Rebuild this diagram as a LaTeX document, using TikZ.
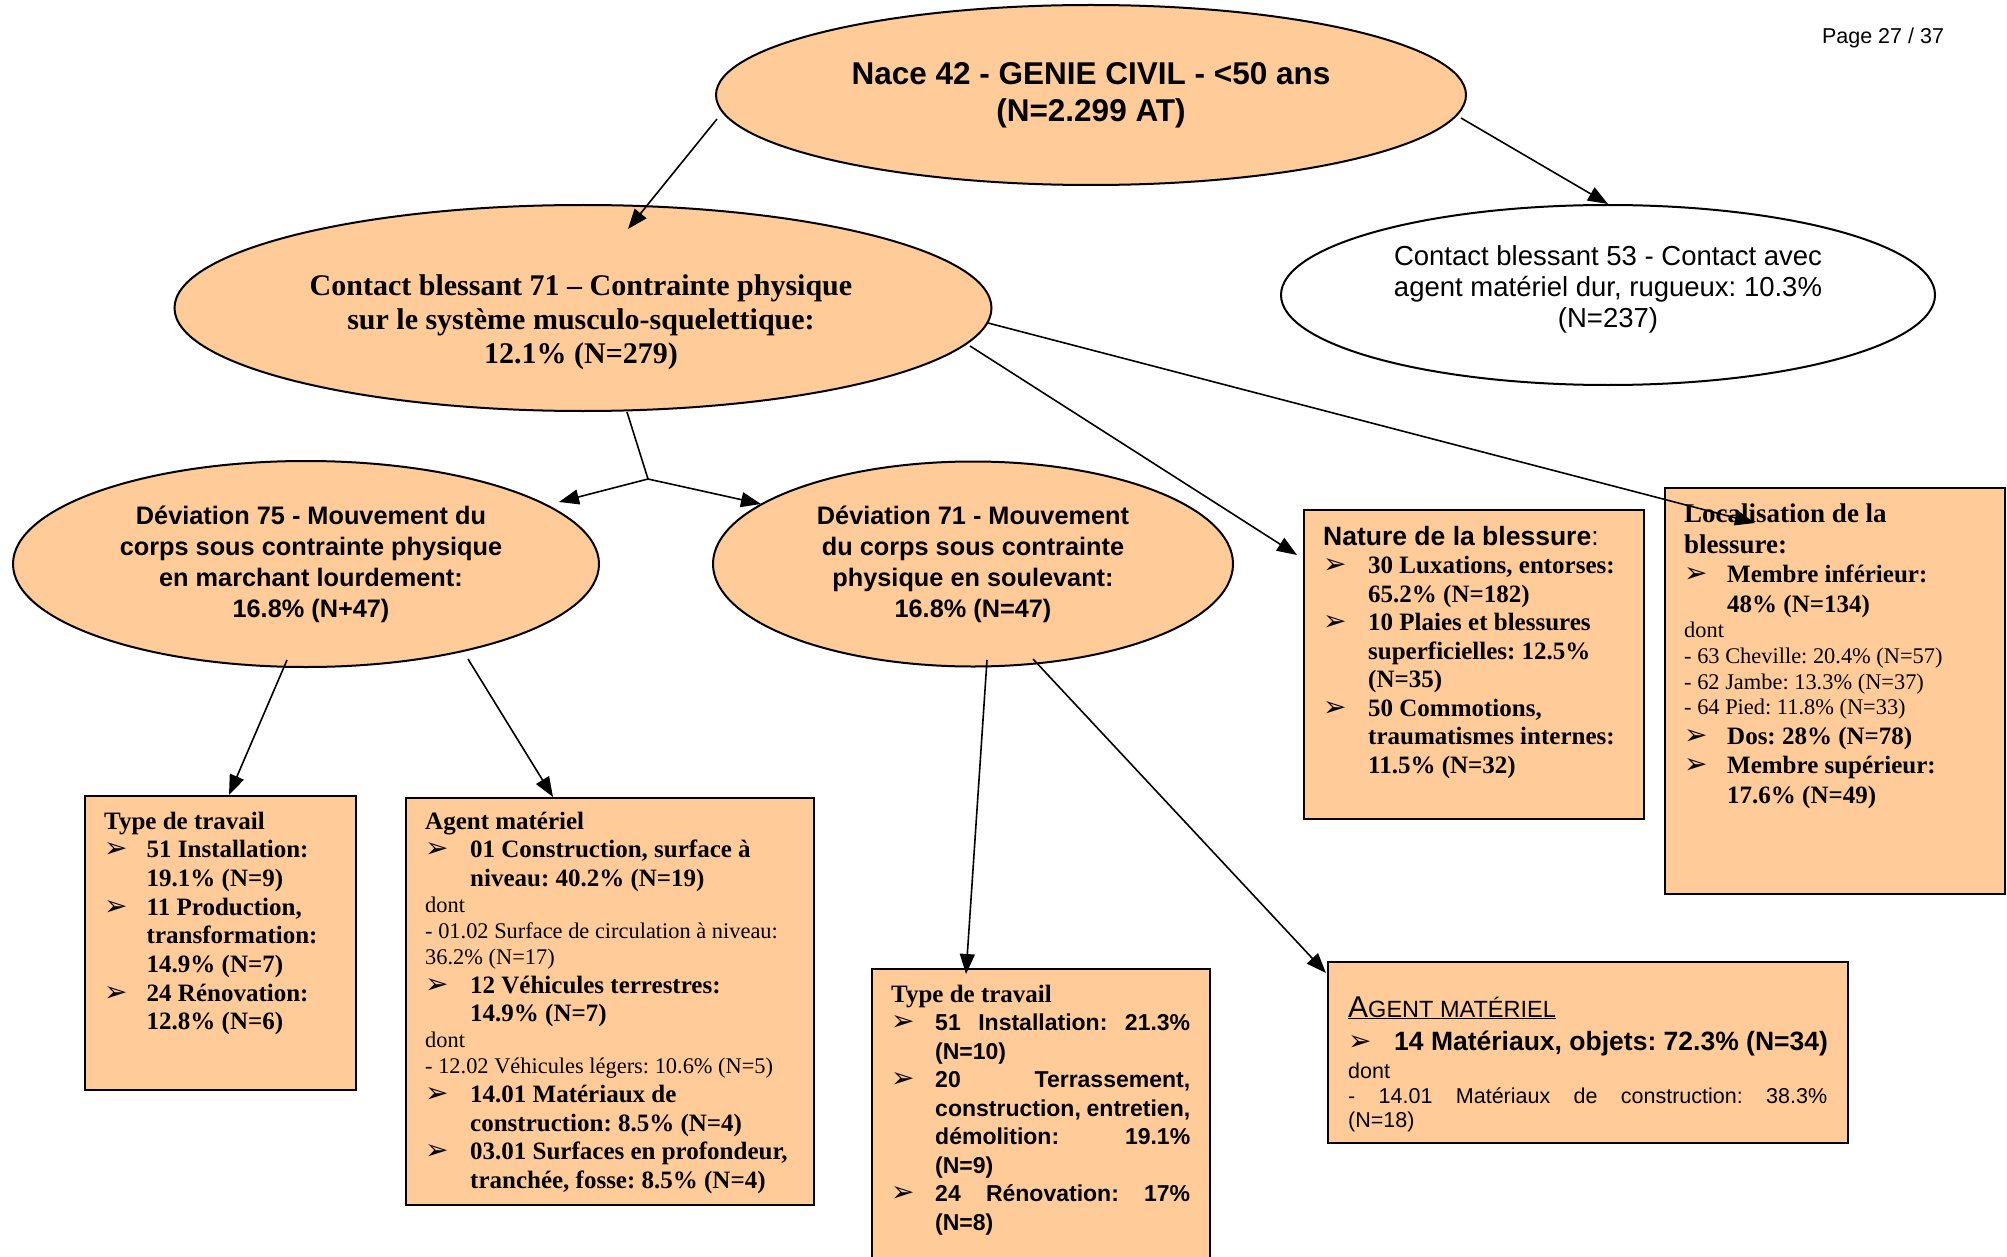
\documentclass[tikz,border=0pt]{standalone}
\usepackage{fontspec}
\setmainfont{Liberation Serif}
\newfontfamily\arialf{Liberation Sans}
\newfontfamily\dingf{DejaVu Sans}
\usetikzlibrary{shapes.geometric,arrows.meta}
\definecolor{peach}{RGB}{255,204,153}
\frenchspacing

% font size shortcut; word spaces follow the current font
\newcommand\fs[2]{\fontsize{#1}{#2}\selectfont\spaceskip=0pt\xspaceskip=0pt\relax}
% arrow-head bullet
\newcommand\arrowbul{{\dingf\mdseries\fs{28}{28}➢}}
% bulleted paragraph with hanging indent (#1 = indent in pt)
\newcommand\bitem[2]{\par\hangindent=#1pt\hangafter=1\noindent\makebox[#1pt][l]{\arrowbul}#2\par}
% plain unindented paragraph
\newcommand\plainline[1]{\par\noindent #1\par}
% first paragraph of a box
\newcommand\firstline[1]{\noindent #1\par}

\begin{document}
\begin{tikzpicture}[x=1pt,y=-1pt,
  oval/.style={ellipse, draw, line width=2pt, fill=peach, inner sep=0pt},
  panel/.style={rectangle, draw, line width=2pt, fill=peach, inner sep=0pt, anchor=north west},
  txtbox/.style={anchor=base west, inner sep=0pt, align=left, text width=#1},
  link/.style={line width=1.6pt},
  linkarrow/.style={link, -{Triangle[length=20pt,width=15pt]}}]

\useasboundingbox (0,0) rectangle (2007,1257);
\clip (0,0) rectangle (2007,1257);

% ---------- ellipses ----------
\node[oval, minimum width=750pt, minimum height=180pt] (T) at (1091,95) {};
\node[oval, fill=white, minimum width=654pt, minimum height=180pt] (C53) at (1608,295) {};
\node[oval, minimum width=817pt, minimum height=206pt] (C71) at (583,308) {};
\node[oval, minimum width=586pt, minimum height=206pt] (D75) at (306,564) {};
\node[oval, minimum width=520pt, minimum height=205pt] (D71) at (973,564) {};

\node[font={\arialf\bfseries\fs{31.5}{37}}, align=center] (Tt) at (1091,95)
  {Nace 42 - GENIE CIVIL - <50 ans\\(N=2.299 AT)};
\node[font={\arialf\fs{27.5}{31}}, align=center] (C53t) at (1608,289)
  {Contact blessant 53 - Contact avec\\agent matériel dur, rugueux: 10.3\%\\(N=237)};
\node[font={\bfseries\fs{30}{34}}, align=center] (C71t) at (581,322)
  {Contact blessant 71 – Contrainte physique\\sur le système musculo-squelettique:\\12.1\% (N=279)};
\node[font={\arialf\bfseries\fs{25.3}{31}}, align=center] (D75t) at (311,564)
  {Déviation 75 - Mouvement du\\corps sous contrainte physique\\en marchant lourdement:\\16.8\% (N+47)};
\node[font={\arialf\bfseries\fs{25.3}{31}}, align=center] (D71t) at (973,564)
  {Déviation 71 - Mouvement\\du corps sous contrainte\\physique en soulevant:\\16.8\% (N=47)};

\node[font={\arialf\fs{21.5}{24}}] (page) at (1883,38) {Page 27 / 37};

% ---------- boxes ----------
\node[panel, minimum width=340pt, minimum height=309pt] (nat) at (1303,509) {};
\node[panel, minimum width=340pt, minimum height=406pt] (loc) at (1664,487) {};
\node[panel, minimum width=271pt, minimum height=294pt] (ty1) at (84,795) {};
\node[panel, minimum width=408pt, minimum height=407pt] (ag1) at (405,797) {};
\node[panel, minimum width=338pt, minimum height=320pt] (ty2) at (871,968) {};
\node[panel, minimum width=520pt, minimum height=181pt] (ag2) at (1327,961) {};

% nature of injury
\node[txtbox=320pt] (natt) at (1323,545) {\fs{25}{28.5}\bfseries
  \firstline{{\arialf\fs{26.5}{28.5}Nature de la blessure}{\arialf\mdseries\fs{26.5}{28.5}:}}
  \bitem{45}{30 Luxations, entorses:\newline 65.2\% (N=182)}
  \bitem{45}{10 Plaies et blessures\newline superficielles: 12.5\%\newline (N=35)}
  \bitem{45}{50 Commotions,\newline traumatismes internes:\newline 11.5\% (N=32)}};

% location of injury
\node[txtbox=318pt] (loct) at (1684,522) {\fs{25}{29.5}\bfseries
  {\fs{27}{31}\firstline{Localisation de la\newline blessure:}}
  {\fs{25}{29.5}\bitem{43}{Membre inférieur:\newline 48\% (N=134)}}
  {\fs{22.4}{25.7}\mdseries\plainline{dont}\plainline{- 63 Cheville: 20.4\% (N=57)}%
    \plainline{- 62 Jambe: 13.3\% (N=37)}\plainline{- 64 Pied: 11.8\% (N=33)}}
  {\fs{25}{29.5}\bitem{43}{Dos: 28\% (N=78)}\bitem{43}{Membre supérieur:\newline 17.6\% (N=49)}}};

% type of work, left branch
\node[txtbox=250pt] (ty1t) at (104,829) {\fs{25}{28.7}\bfseries
  \firstline{Type de travail}
  \bitem{42.5}{51 Installation:\newline 19.1\% (N=9)}
  \bitem{42.5}{11 Production,\newline transformation:\newline 14.9\% (N=7)}
  \bitem{42.5}{24 Rénovation:\newline 12.8\% (N=6)}};

% material agent, left branch
\node[txtbox=388pt] (ag1t) at (425,829) {\fs{25}{28.7}\bfseries
  \firstline{Agent matériel}
  \bitem{45}{01 Construction, surface à\newline niveau: 40.2\% (N=19)}
  {\fs{22.4}{26}\mdseries\plainline{dont}\plainline{- 01.02 Surface de circulation à niveau:\newline 36.2\% (N=17)}}
  \bitem{45}{12 Véhicules terrestres:\newline 14.9\% (N=7)}
  {\fs{22.4}{26}\mdseries\plainline{dont}\plainline{- 12.02 Véhicules légers: 10.6\% (N=5)}}
  \bitem{45}{14.01 Matériaux de\newline construction: 8.5\% (N=4)}
  \bitem{45}{03.01 Surfaces en profondeur,\newline tranchée, fosse: 8.5\% (N=4)}};

% type of work, right branch
\node[txtbox=310pt] (ty2t) at (891,1002) {\fs{25}{28.5}\bfseries
  \firstline{Type de travail}
  {\arialf\fs{23}{28.5}%
  \bitem{44}{\hbox to 255pt{51\hfill Installation:\hfill 21.3\%}\newline (N=10)}
  \bitem{44}{\hbox to 255pt{20\hfill Terrassement,}\newline
    \hbox to 255pt{construction,\hss entretien,}\newline
    \hbox to 255pt{démolition:\hfill 19.1\%}\newline (N=9)}
  \bitem{44}{\hbox to 255pt{24\hfill Rénovation:\hfill 17\%}\newline (N=8)}}};

% material agent, right branch
\node[txtbox=490pt] (ag2t) at (1348,1017) {\arialf\fs{23.5}{28}%
  \firstline{\underline{{\fs{30}{28}A}GENT MATÉRIEL}}
  {\bfseries\fs{26.5}{33}\bitem{46}{14 Matériaux, objets: 72.3\% (N=34)}}
  \vskip 4pt
  {\fs{21.5}{24.5}\plainline{dont}%
   \plainline{\hbox to 479pt{-\hfill 14.01\hfill Matériaux\hfill de\hfill construction:\hfill 38.3\%}}%
   \plainline{(N=18)}}};

% ---------- connectors ----------
\coordinate (J) at (648,479);
\draw[linkarrow] ([shift={(2,24)}]T.west) -- ([shift={(45,25)}]C71.north);
\draw[linkarrow] ([shift={(-6,23)}]T.east) -- (C53.north);
\draw[link] ([shift={(44,0)}]C71.south) -- (J);
\draw[linkarrow] (J) -- ([shift={(253,-62)}]D75.center);
\draw[linkarrow] (J) -- ([shift={(-212,-60)}]D71.center);
\draw[linkarrow] ([shift={(387,38)}]C71.center) -- ([shift={(-6,46)}]nat.north west);
\draw[linkarrow] ([shift={(405,15)}]C71.center) -- ([shift={(91,36)}]loc.north west);
\draw[linkarrow] ([shift={(-19,96)}]D75.center) -- ([shift={(8.5,0)}]ty1.north);
\draw[linkarrow] ([shift={(162,95)}]D75.center) -- ([shift={(-57,0)}]ag1.north);
\draw[linkarrow] ([shift={(14,96)}]D71.center) -- ([shift={(-75,6)}]ty2.north);
\draw[linkarrow] ([shift={(60,95)}]D71.center) -- ([shift={(-1,12)}]ag2.north west);
\end{tikzpicture}
\end{document}
